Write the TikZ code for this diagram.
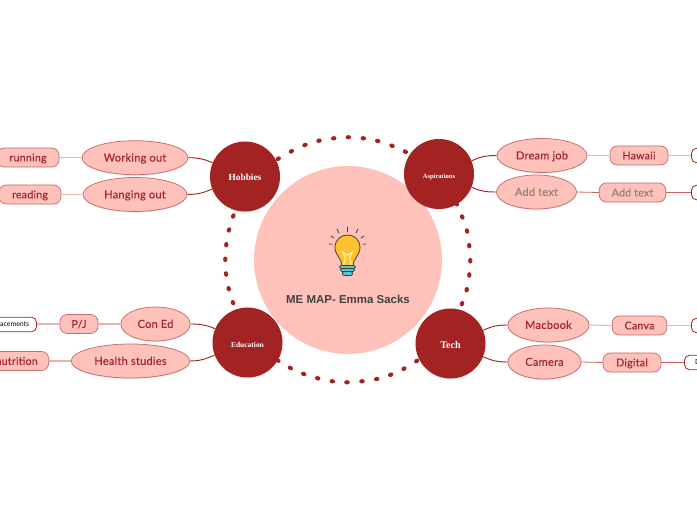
\documentclass[tikz,border=0pt]{standalone}
\usepackage{fontspec}
\setmainfont{Lato}
\newfontfamily\labelfont[FakeBold=0.25,LetterSpace=2]{Lato}
\newfontfamily\titlefont{Liberation Sans}
\newfontfamily\serifnode{Liberation Serif}
\usetikzlibrary{shapes.geometric,shadows}
\definecolor{darkred}{HTML}{A32222}
\definecolor{pinkfill}{HTML}{FFC2BB}
\definecolor{pinkedge}{HTML}{C96A6A}
\definecolor{labelred}{HTML}{A32433}
\definecolor{paleline}{HTML}{E8B4B0}
\definecolor{midline}{HTML}{C7605E}
\definecolor{greytext}{HTML}{93807E}
\definecolor{bulbfill}{HTML}{FFC12E}
\definecolor{basefill}{HTML}{4FC8D4}
\tikzset{
  softshadow/.style={drop shadow={opacity=.18,shadow xshift=0pt,shadow yshift=-.8pt}},
  hub/.style={circle,fill=darkred,minimum size=52.5pt,inner sep=0pt,text=white,text depth=0pt,softshadow},
  oval/.style={ellipse,draw=pinkedge,fill=pinkfill,line width=.55pt,inner sep=0pt,minimum height=25.5pt,text=labelred,text height=5.8pt,text depth=0pt,font=\labelfont\fontsize{8.3}{10}\selectfont,softshadow},
  pill/.style={rounded corners=5.5pt,draw=pinkedge,fill=pinkfill,line width=.55pt,inner sep=0pt,minimum height=14.3pt,text=labelred,text height=5.8pt,text depth=0pt,font=\labelfont\fontsize{8}{10}\selectfont},
  endbox/.style={rounded corners=4pt,draw=darkred,fill=white,line width=.6pt,inner sep=0pt,minimum height=11pt,text=black,font=\fontsize{5.2}{6}\selectfont},
  branch/.style={draw=darkred,line width=.7pt},
  paleconn/.style={draw=paleline,line width=.8pt},
  midconn/.style={draw=midline,line width=.6pt},
  raymark/.style={draw=black!75,line width=.55pt,line cap=round}
}
\begin{document}
\begin{tikzpicture}[x=.75pt,y=-.75pt]
\clip (0,0) rectangle (697,520);
% ring of dots
\foreach \dx/\dy in {278.3/158.7,291.3/151.3,305/145,319/140.7,333.7/138.3,348.3/137.3,363.3/138.3,377.7/141,392/145.7,405.3/151.7,
  233.3/216,229/230,226.3/244.7,225.3/259.3,226/274,228.7/288.7,233/302.7,
  456.7/204,462.3/217,467/231,469.3/245.7,470.3/260.7,469.3/275,466.7/289.7,462/303.7,
  278/360.5,290.3/368,303.7/374,317.7/378.3,332.3/381.3,347/382.3,362/381.3,376.7/379,390.7/374.7,404/368.7,416.7/361}{
  \pgfmathsetmacro\tang{atan2(260-\dy,\dx-348)+90}
  \fill[darkred,shift={(\dx,\dy)},rotate=\tang] (0,0) ellipse (2.8 and 2.2);
}
% central
\node[circle,fill=pinkfill,minimum size=141pt,inner sep=0pt] (core) at (348,260) {};
\node[font=\titlefont\bfseries\fontsize{8.6}{11}\selectfont,text=black!75] (title) at (348,299.5) {ME MAP- Emma Sacks};
% bulb
\begin{scope}[shift={(347.5,0)}]
  \foreach \xa/\ya/\xb/\yb in {0/227/0/232,-10.5/229/-8.5/233,-16.5/236/-13.5/238,-18.5/244/-15.5/244.3,10.5/229/8.5/233,16.5/236/13.5/238,18.5/244/15.5/244.3}{
    \draw[raymark] (\xa,\ya) -- (\xb,\yb);
  }
  \draw[fill=basefill,draw=black!75,line width=.5pt,rounded corners=1pt] (-8,265.5) rectangle (8,268.5);
  \draw[fill=basefill,draw=black!75,line width=.5pt,rounded corners=1pt] (-7,268.5) rectangle (7,271.5);
  \draw[fill=basefill,draw=black!75,line width=.5pt,rounded corners=1pt] (-5,271.5) rectangle (5,275.5);
  \draw[fill=bulbfill,draw=black!75,line width=.6pt]
    (-5.5,265.5) .. controls (-5.5,259) and (-12.5,255) .. (-12.5,247.5)
    .. controls (-12.5,240) and (-7,235) .. (0,235)
    .. controls (7,235) and (12.5,240) .. (12.5,247.5)
    .. controls (12.5,255) and (5.5,259) .. (5.5,265.5) -- cycle;
  \draw[draw=yellow!30,line width=.7pt] (-4,265) -- (-2,258) -- (-5,252) -- (0,255) -- (5,252) -- (2,258) -- (4,265);
\end{scope}
% hubs
\node[hub,text height=6.4pt,font=\serifnode\bfseries\fontsize{7}{8}\selectfont] (hob) at (245,176.5) {Hobbies};
\node[hub,text height=7.5pt,font=\serifnode\bfseries\fontsize{4.9}{6}\selectfont] (asp) at (439,174) {Aspirations};
\node[hub,text height=8.2pt,font=\serifnode\bfseries\fontsize{5.6}{6}\selectfont] (edu) at (247.5,342.5) {Education};
\node[hub,text height=8.2pt,font=\serifnode\bfseries\fontsize{7.6}{8}\selectfont] (tech) at (450.5,343.5) {Tech};
% ovals
\node[oval,minimum width=79.5pt] (work) at (135,157.7) {Working out};
\node[oval,minimum width=78pt] (hang) at (135,194.5) {Hanging out};
\node[oval,minimum width=67.5pt] (dream) at (542,155.5) {Dream job};
\node[oval,minimum width=60pt,text=greytext] (addA) at (536.5,192) {Add text};
\node[oval,minimum width=52pt] (coned) at (155.5,324) {Con Ed};
\node[oval,minimum width=89pt] (health) at (130.5,361) {Health studies};
\node[oval,minimum width=61pt] (mac) at (548.5,325) {Macbook};
\node[oval,minimum width=55pt] (cam) at (544.5,362) {Camera};
% pills
\node[pill,minimum width=46.5pt] (run) at (28,157.5) {running};
\node[pill,minimum width=46.5pt] (read) at (30,194.5) {reading};
\node[pill,minimum width=43.5pt] (haw) at (639,155.5) {Hawaii};
\node[pill,minimum width=50pt,text=greytext] (addB) at (632.5,192.5) {Add text};
\node[pill,minimum width=28.5pt] (pj) at (79,324) {P/J};
\node[pill,minimum width=48pt,anchor=east] (nut) at (49,361) {nutrition\hspace{2pt}};
\node[pill,minimum width=41pt] (canva) at (639.5,325.5) {Canva};
\node[pill,minimum width=43.5pt] (dig) at (632,362.5) {Digital};
% end boxes
\node[endbox,minimum width=37pt,anchor=east] (place) at (37,324.5) {placements\hspace{6.5pt}};
\node[endbox,minimum width=30pt,anchor=west] (endA) at (691,155.5) {};
\node[endbox,minimum width=30pt,anchor=west] (endB) at (691,192.5) {};
\node[endbox,minimum width=30pt,anchor=west] (endC) at (691,325.5) {};
\node[endbox,minimum width=30pt,anchor=west,align=left,text width=26pt] (endD) at (684,362.5) {\hspace*{6pt}D};
% connectors
\draw[branch] (work.east) to[out=0,in=157] (hob.157);
\draw[branch] (hang.east) to[out=0,in=203] (hob.201);
\draw[branch] (asp.22) to[out=25,in=180] (dream.west);
\draw[branch] (asp.-22) to[out=-25,in=180] (addA.west);
\draw[branch] (coned.east) to[out=0,in=157] (edu.157);
\draw[branch] (health.east) to[out=0,in=203] (edu.201);
\draw[branch] (tech.22) to[out=25,in=180] (mac.west);
\draw[branch] (tech.-22) to[out=-25,in=180] (cam.west);
\draw[paleconn] (run.east) -- (run.east -| work.west);
\draw[paleconn] (read.east) -- (read.east -| hang.west);
\draw[paleconn] (place.east |- pj.west) -- (pj.west);
\draw[paleconn] (pj.east) -- (coned.west);
\draw[paleconn] (nut.east) -- (health.west);
\draw[paleconn] (dream.east) -- (haw.west);
\draw[paleconn] (haw.east) -- (endA.west);
\draw[midconn] (addA.east) -- (addB.west);
\draw[midconn] (addB.east) -- (endB.west);
\draw[paleconn] (mac.east) -- (canva.west);
\draw[paleconn] (canva.east) -- (endC.west);
\draw[midconn] (cam.east) -- (dig.west);
\draw[midconn] (dig.east) -- (endD.west);
\end{tikzpicture}
\end{document}
